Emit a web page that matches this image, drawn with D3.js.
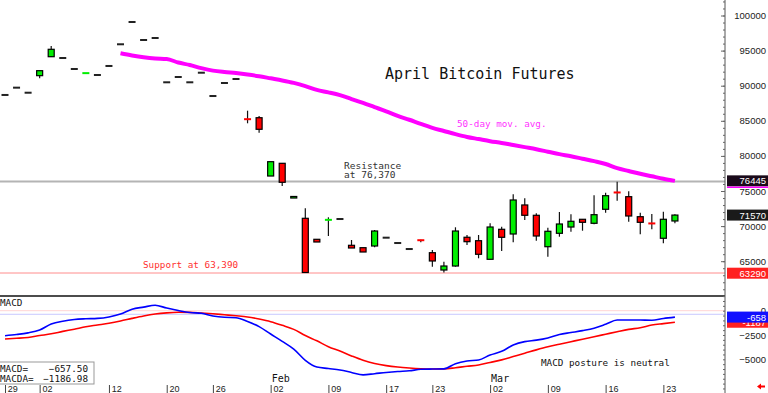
<!DOCTYPE html>
<html><head><meta charset="utf-8">
<script src="https://cdn.jsdelivr.net/npm/d3@7"></script>
<style>html,body{margin:0;padding:0;background:#fff;overflow:hidden}</style>
</head><body><svg id="c" width="768" height="393"></svg>
<script>
// ---------- DATA ----------
const dates = ["12-29","12-30","12-31","01-02","01-05","01-06","01-07","01-08","01-09","01-12","01-13","01-14","01-15","01-16","01-20","01-21","01-22","01-23","01-26","01-27","01-28","01-29","01-30","02-02","02-03","02-04","02-05","02-06","02-09","02-10","02-11","02-12","02-13","02-17","02-18","02-19","02-20","02-23","02-24","02-25","02-26","02-27","03-02","03-03","03-04","03-05","03-06","03-09","03-10","03-11","03-12","03-13","03-16","03-17","03-18","03-19","03-20","03-23","03-24"];
const open  = [88680,89720,89000,91430,94130,93945,92380,91740,91525,92810,95900,99075,96510,96795,90485,91240,90485,91850,88530,90385,90955,85280,85440,77135,78945,74000,71110,68120,70840,71010,67265,66925,67165,68350,67590,66735,68040,66210,63745,64315,68410,67920,65270,69545,68875,73010,71540,67065,68975,69870,70970,70400,72395,74840,74190,71340,70460,68265,70730];
const high  = [88680,89720,89000,92140,95655,93945,92380,91790,91525,92810,95900,99075,96510,96795,90485,91240,90485,91850,88530,90385,90955,86440,85685,79175,78945,74220,72535,68120,71255,71010,68020,66925,69445,68350,67590,66735,68040,66595,64930,69830,68730,68730,70400,69915,74530,73960,71820,69770,72010,71680,70970,74390,74760,76325,74960,71910,71725,72050,71680];
const low   = [88680,89720,89000,91050,94130,93945,92380,91740,91525,92810,95900,99075,96510,96795,90485,91240,90485,91850,88530,90385,90955,84645,83305,77135,75715,74000,63390,67735,68590,71010,66880,66310,66980,68350,67590,66735,67690,64220,63400,64220,67310,65415,65270,66450,67690,70870,67920,65640,68490,69200,69345,70260,71910,73620,70630,68830,69545,67550,70400];
const close = [88680,89720,89000,92140,95185,93945,92380,91790,91525,92810,95900,99075,96510,96795,90485,91240,90485,91850,88530,90385,90955,85230,83790,79175,76240,74220,63390,67735,70890,71010,66880,66310,69300,68350,67590,66735,67990,65030,64315,69300,67780,65985,69870,68405,73720,71540,68590,69260,70300,70685,70540,71625,74330,74790,71440,70540,70380,70970,71570];
const ma50 = [null,null,null,null,null,null,null,null,null,null,94615,94300,94045,93875,93800,93300,92950,92500,92150,91950,91800,91600,91350,91050,90750,90400,89950,89400,89050,88650,88100,87550,86950,86350,85700,85150,84550,84000,83550,83100,82700,82400,82100,81850,81550,81250,80950,80600,80250,79950,79600,79250,78850,78250,77850,77450,77100,76750,76445];
const macd = [-2570,-2450,-2280,-1990,-1380,-1080,-900,-830,-790,-640,-340,160,370,560,270,20,-190,-270,-540,-680,-720,-1120,-1640,-2400,-3150,-3950,-5100,-5800,-5950,-6100,-6350,-6600,-6480,-6350,-6250,-6180,-6030,-6000,-5980,-5450,-5170,-5070,-4560,-4180,-3530,-3180,-3030,-2800,-2450,-2250,-2050,-1800,-1400,-960,-950,-960,-990,-800,-657.5];
const macdAvg = [-2910,-2840,-2750,-2560,-2380,-2130,-1900,-1650,-1470,-1290,-1060,-790,-540,-340,-220,-165,-170,-240,-320,-420,-520,-640,-860,-1130,-1500,-1920,-2560,-3100,-3700,-4150,-4650,-5100,-5430,-5650,-5800,-5900,-5970,-6000,-5990,-5870,-5720,-5580,-5320,-5060,-4720,-4380,-4030,-3710,-3450,-3190,-2930,-2680,-2420,-2160,-1920,-1750,-1480,-1330,-1186.98];
const tickDates = ["12-29","01-02","01-12","01-20","01-26","02-02","02-09","02-17","02-23","03-02","03-09","03-16","03-23"];
const monthDates = ["02-02","03-02"];
const monthLabels = ["Feb","Mar"];
const priceTicks = [65000,70000,75000,80000,85000,90000,95000,100000];
const macdTicks = [0,-2500,-5000];
const resistance = 76370, support = 63390;
const lastTags = [{v:76445,t:"76445",bg:"#1a0a1a",fg:"#fff"},{v:71570,t:"71570",bg:"#1a1a1a",fg:"#fff"},{v:63290,t:"63290",bg:"#ff2020",fg:"#fff"}];
const macdTags = [{v:-1186.98,t:"-1187",bg:"#ff2020",fg:"#fff"},{v:-657.5,t:"-658",bg:"#1010ff",fg:"#fff"}];

// ---------- SCALES ----------
const W = 725;
const svg = d3.select("#c");
const x = d3.scaleLinear().domain([-0.433, 62.25]).range([0, 724]);
const y = d3.scaleLinear().domain([65000, 100000]).range([261.2, 15.5]);
const ym = d3.scaleLinear().domain([-5000, 0]).range([359.3, 310.7]);
const mono = "'DejaVu Sans Mono', 'Liberation Mono', monospace";
const sans = "'Liberation Sans', Arial, sans-serif";

// reference lines
svg.append("line").attr("x1",0).attr("x2",W).attr("y1",y(resistance)).attr("y2",y(resistance)).attr("stroke","#b4b4b4").attr("stroke-width",2);
svg.append("line").attr("x1",0).attr("x2",W).attr("y1",y(support)+0.5).attr("y2",y(support)+0.5).attr("stroke","#ff8c8c").attr("stroke-width",1);
svg.append("line").attr("x1",0).attr("x2",W).attr("y1",296).attr("y2",296).attr("stroke","#111").attr("stroke-width",1.3);
svg.append("line").attr("x1",0).attr("x2",W).attr("y1",ym(0)).attr("y2",ym(0)).attr("stroke","#ffd4d4").attr("stroke-width",1);
svg.append("line").attr("x1",0).attr("x2",W).attr("y1",ym(-370)).attr("y2",ym(-370)).attr("stroke","#c8c8ff").attr("stroke-width",1);

// moving average
const maLine = d3.line().defined(d=>d!=null).x((d,i)=>x(i)).y(d=>y(d)).curve(d3.curveMonotoneX);
svg.append("path").attr("d", maLine(ma50)).attr("fill","none").attr("stroke","#ff00ff").attr("stroke-width",4);

// candles
const data = dates.map((d,i)=>({i,o:open[i],h:high[i],l:low[i],c:close[i]}));
const cg = svg.append("g");
data.forEach(d=>{
  const cx = x(d.i);
  if (d.h === d.l) {
    cg.append("rect").attr("x",cx-3.5).attr("y",y(d.c)-1).attr("width",7).attr("height",2).attr("fill","#222");
    return;
  }
  cg.append("line").attr("x1",cx).attr("x2",cx).attr("y1",y(d.h)).attr("y2",y(d.l)).attr("stroke","#111").attr("stroke-width",1.2);
  const col = d.c >= d.o ? "#00ee00" : "#ff0000";
  const top = Math.min(y(d.o),y(d.c)), hgt = Math.abs(y(d.o)-y(d.c));
  if (hgt < 1.2) {
    cg.append("rect").attr("x",cx-3.5).attr("y",y(d.c)-1).attr("width",7).attr("height",2).attr("fill",col);
  } else {
    cg.append("rect").attr("x",cx-3).attr("y",top).attr("width",6).attr("height",hgt).attr("fill",col).attr("stroke","#000").attr("stroke-width",1.2);
  }
});

// MACD lines
const ml = d3.line().x((d,i)=>x(i)).y(d=>ym(d)).curve(d3.curveMonotoneX);
svg.append("path").attr("d", ml(macdAvg)).attr("fill","none").attr("stroke","#ff0000").attr("stroke-width",1.6);
svg.append("path").attr("d", ml(macd)).attr("fill","none").attr("stroke","#0000ff").attr("stroke-width",1.6);

// texts
function txt(s,xx,yy,size,col,fam,anchor){
  return svg.append("text").attr("x",xx).attr("y",yy).attr("font-size",size).attr("fill",col).attr("font-family",fam||mono).attr("text-anchor",anchor||"start").text(s);
}
txt("April Bitcoin Futures",385,78.5,15,"#111");
txt("50-day mov. avg.",457,126.5,9.3,"#ff33ff");
txt("Resistance",344,169,9.5,"#333");
txt("at 76,370",344,177.5,9.5,"#333");
txt("Support at 63,390",143,267.5,9.3,"#ff3030");
txt("MACD posture is neutral",541,366,9.3,"#111");
txt("MACD",0,305.5,9.3,"#111");
svg.append("rect").attr("x",-1).attr("y",362).attr("width",95).attr("height",22).attr("fill","#fff").attr("stroke","#999").attr("stroke-width",1);
txt("MACD=",0,371.7,9.3,"#111");
txt("MACDA=",0,381.7,9.3,"#111");
txt(d3.format(".2f")(macd[macd.length-1]),88,371.7,9.3,"#111",mono,"end");
txt(d3.format(".2f")(macdAvg[macdAvg.length-1]),88,381.7,9.3,"#111",mono,"end");

// month labels
monthDates.forEach((m,k)=>txt(monthLabels[k], x(dates.indexOf(m))+1, 381.7, 10, "#111"));

// x axis
const xa = d3.axisBottom(x).tickValues(tickDates.map(t=>dates.indexOf(t))).tickSize(8).tickFormat((d)=>dates[d].slice(3));
const gx = svg.append("g").attr("transform","translate(0,385)").call(xa);
gx.select(".domain").remove();
gx.selectAll(".tick line").attr("stroke","#444");
gx.selectAll(".tick text").attr("x",2.3).attr("y",0).attr("dy","7.4").attr("text-anchor","start").attr("font-size",9).attr("font-family",sans).attr("fill","#222");

// right axis
svg.append("line").attr("x1",W).attr("x2",W).attr("y1",0).attr("y2",393).attr("stroke","#555").attr("stroke-width",1);
const gMinor = svg.append("g").attr("transform",`translate(${W},0)`).call(d3.axisLeft(y).tickValues(d3.range(61000,102001,1000)).tickSize(2).tickFormat(""));
gMinor.select(".domain").remove();
const gMajor = svg.append("g").attr("transform",`translate(${W},0)`).call(d3.axisLeft(y).tickValues(priceTicks).tickSize(4).tickFormat(""));
gMajor.select(".domain").remove();
const gmMinor = svg.append("g").attr("transform",`translate(${W},0)`).call(d3.axisLeft(ym).tickValues(d3.range(-8000,1501,500)).tickSize(2).tickFormat(""));
gmMinor.select(".domain").remove();
svg.selectAll(".tick line").filter(function(){return this.parentNode.parentNode!==gx.node();}).attr("stroke","#666");

const gl = svg.append("g").attr("transform","translate(766,0)").call(d3.axisRight(y).tickValues(priceTicks).tickSize(0).tickPadding(0).tickFormat(d3.format("d")));
gl.select(".domain").remove();
gl.selectAll("text").attr("text-anchor","end").attr("font-size",9.5).attr("font-family",sans).attr("fill","#222");
const gml = svg.append("g").attr("transform","translate(766,0)").call(d3.axisRight(ym).tickValues(macdTicks).tickSize(0).tickPadding(0).tickFormat(d3.format("d")));
gml.select(".domain").remove();
gml.selectAll("text").attr("text-anchor","end").attr("font-size",9.5).attr("font-family",sans).attr("fill","#222");

// value tags
function tag(yy, t, bg, fg){
  svg.append("rect").attr("x",727).attr("y",yy-5.5).attr("width",41).attr("height",11).attr("fill",bg);
  svg.append("text").attr("x",766).attr("y",yy+3.5).attr("text-anchor","end").attr("font-size",9.5).attr("font-family",sans).attr("fill",fg).text(t);
}
lastTags.forEach(d=>tag(y(d.v), d.t, d.bg, d.fg));
svg.append("line").attr("x1",727).attr("x2",768).attr("y1",y(76445)+6.5).attr("y2",y(76445)+6.5).attr("stroke","#ff00ff").attr("stroke-width",1.5);
macdTags.forEach(d=>tag(ym(d.v), d.t, d.bg, d.fg));

// small red arrow
svg.append("path").attr("d","M757,386.5 L761,383.5 L761,385.5 L765,385.5 L765,387.5 L761,387.5 L761,389.5 Z").attr("fill","#ff0000");
</script></body></html>
